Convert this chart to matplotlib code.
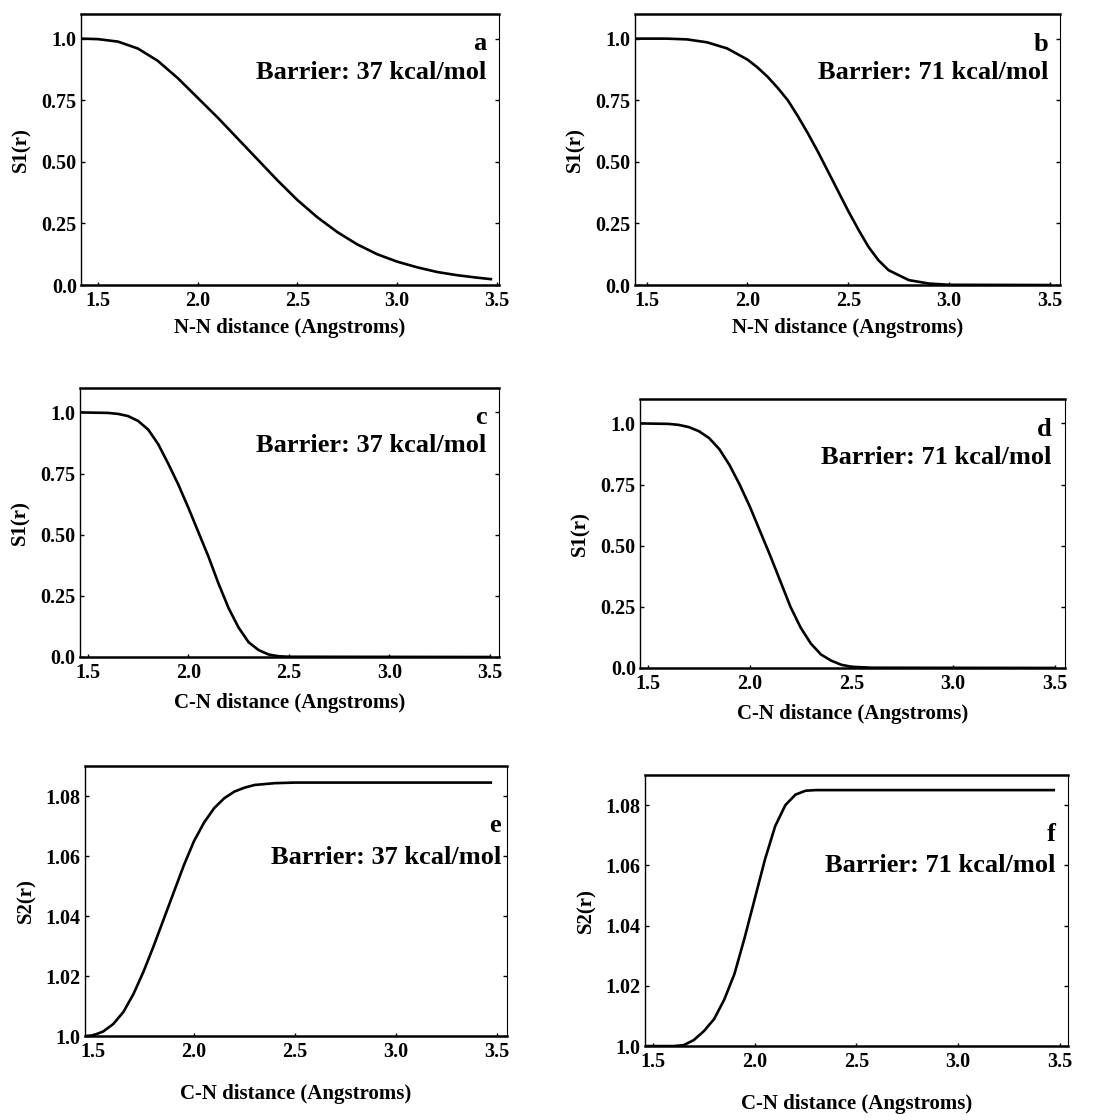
import matplotlib
matplotlib.use('Agg')
import matplotlib.pyplot as plt

plt.rcParams['font.family'] = ['Liberation Serif', 'DejaVu Serif']
plt.rcParams['font.weight'] = 'bold'

# panel a: S1(r) vs N-N distance, barrier 37
a_r = [1.42, 1.5, 1.6, 1.7, 1.8, 1.9, 2.0, 2.1, 2.2, 2.3, 2.4, 2.5, 2.6, 2.7,
       2.8, 2.9, 3.0, 3.1, 3.2, 3.3, 3.4, 3.47]
a_s = [1.0, 0.998, 0.988, 0.96, 0.91, 0.84, 0.76, 0.68, 0.595, 0.51, 0.425,
       0.345, 0.275, 0.215, 0.165, 0.125, 0.095, 0.072, 0.053, 0.04, 0.03, 0.024]

# panel b: S1(r) vs N-N distance, barrier 71
b_r = [1.43, 1.6, 1.7, 1.8, 1.9, 2.0, 2.05, 2.1, 2.15, 2.2, 2.25, 2.3, 2.35,
       2.4, 2.45, 2.5, 2.55, 2.6, 2.65, 2.7, 2.8, 2.9, 3.0, 3.5]
b_s = [1.0, 1.0, 0.997, 0.985, 0.96, 0.915, 0.883, 0.845, 0.8, 0.75, 0.685,
       0.615, 0.54, 0.46, 0.38, 0.3, 0.225, 0.155, 0.1, 0.06, 0.02, 0.006,
       0.001, 0.0]

# panel c: S1(r) vs C-N distance, barrier 37
c_r = [1.46, 1.6, 1.65, 1.7, 1.75, 1.8, 1.85, 1.9, 1.95, 2.0, 2.05, 2.1, 2.15,
       2.2, 2.25, 2.3, 2.35, 2.4, 2.45, 2.5, 3.5]
c_s = [1.0, 0.998, 0.994, 0.985, 0.965, 0.93, 0.87, 0.79, 0.705, 0.61, 0.51,
       0.41, 0.3, 0.2, 0.12, 0.06, 0.028, 0.01, 0.003, 0.001, 0.0]

# panel d: S1(r) vs C-N distance, barrier 71
d_r = [1.46, 1.6, 1.65, 1.7, 1.75, 1.8, 1.85, 1.9, 1.95, 2.0, 2.05, 2.1, 2.15,
       2.2, 2.25, 2.3, 2.35, 2.4, 2.45, 2.5, 2.6, 3.5]
d_s = [1.0, 0.998, 0.994, 0.985, 0.968, 0.94, 0.895, 0.83, 0.75, 0.66, 0.56,
       0.46, 0.355, 0.25, 0.165, 0.1, 0.055, 0.03, 0.013, 0.005, 0.001, 0.0]

# panel e: S2(r) vs C-N distance, barrier 37
e_r = [1.46, 1.5, 1.55, 1.6, 1.65, 1.7, 1.75, 1.8, 1.85, 1.9, 1.95, 2.0, 2.05,
       2.1, 2.15, 2.2, 2.25, 2.3, 2.4, 2.5, 3.47]
e_s = [1.0, 1.0002, 1.0015, 1.004, 1.008, 1.014, 1.0215, 1.03, 1.039, 1.048,
       1.057, 1.065, 1.0712, 1.076, 1.0793, 1.0815, 1.0828, 1.0837, 1.0843,
       1.0845, 1.0845]

# panel f: S2(r) vs C-N distance, barrier 71
f_r = [1.46, 1.6, 1.65, 1.7, 1.75, 1.8, 1.85, 1.9, 1.95, 2.0, 2.05, 2.1, 2.15,
       2.2, 2.25, 2.3, 3.47]
f_s = [1.0, 1.0, 1.0003, 1.002, 1.005, 1.009, 1.0155, 1.024, 1.036, 1.049,
       1.062, 1.073, 1.08, 1.0835, 1.0848, 1.085, 1.085]

x_ticks = [1.5, 2.0, 2.5, 3.0, 3.5]
x_ticklabels = ['1.5', '2.0', '2.5', '3.0', '3.5']
s1_ticks = [0.0, 0.25, 0.5, 0.75, 1.0]
s1_ticklabels = ['0.0', '0.25', '0.50', '0.75', '1.0']
s2_ticks = [1.0, 1.02, 1.04, 1.06, 1.08]
s2_ticklabels = ['1.0', '1.02', '1.04', '1.06', '1.08']


def draw_panel(fig, rect, r, s, xlim, ylim, yticks, yticklabels, ylabel,
               xlabel, xpad, letter, barrier, letter_y, barrier_y, text_x):
    ax = fig.add_axes(rect)
    ax.plot(r, s, color='black', lw=1.9, solid_joinstyle='round')
    ax.set_xlim(*xlim)
    ax.set_ylim(*ylim)
    ax.set_xticks(x_ticks)
    ax.set_xticklabels(x_ticklabels)
    ax.set_yticks(yticks)
    ax.set_yticklabels(yticklabels)
    ax.tick_params(direction='in', length=3, width=1, labelsize=14.5,
                   right=True, pad=3)
    ax.tick_params(axis='x', pad=4, length=2)
    ax.set_ylabel(ylabel, fontsize=15, fontweight='bold', labelpad=7)
    # x label distance differs a bit from row to row in the scan
    ax.set_xlabel(xlabel, fontsize=15, fontweight='bold', labelpad=xpad)
    ax.spines['top'].set_linewidth(1.8)
    ax.spines['bottom'].set_linewidth(1.8)
    ax.spines['left'].set_linewidth(1.0)
    ax.spines['right'].set_linewidth(0.8)
    ax.text(text_x, letter_y, letter, transform=ax.transAxes, ha='right',
            va='center', fontsize=19, fontweight='bold')
    ax.text(text_x, barrier_y, barrier, transform=ax.transAxes, ha='right',
            va='center', fontsize=19, fontweight='bold')
    return ax


def main():
    fig = plt.figure(figsize=(10.94, 11.2), dpi=100)

    draw_panel(fig, [0.074, 0.7455, 0.382, 0.242], a_r, a_s, (1.415, 3.51),
               (0, 1.1), s1_ticks, s1_ticklabels, 'S1(r)',
               'N-N distance (Angstroms)', 5, 'a', 'Barrier: 37 kcal/mol',
               0.893, 0.786, 0.971)
    draw_panel(fig, [0.580, 0.7455, 0.389, 0.242], b_r, b_s, (1.44, 3.55),
               (0, 1.1), s1_ticks, s1_ticklabels, 'S1(r)',
               'N-N distance (Angstroms)', 5, 'b', 'Barrier: 71 kcal/mol',
               0.886, 0.786, 0.972)
    draw_panel(fig, [0.073, 0.4134, 0.383, 0.2402], c_r, c_s, (1.46, 3.545),
               (0, 1.1), s1_ticks, s1_ticklabels, 'S1(r)',
               'C-N distance (Angstroms)', 7.5, 'c', 'Barrier: 37 kcal/mol',
               0.892, 0.788, 0.971)
    draw_panel(fig, [0.585, 0.4036, 0.3885, 0.2402], d_r, d_s, (1.46, 3.55),
               (0, 1.1), s1_ticks, s1_ticklabels, 'S1(r)',
               'C-N distance (Angstroms)', 7.5, 'd', 'Barrier: 71 kcal/mol',
               0.885, 0.781, 0.968)
    draw_panel(fig, [0.0777, 0.075, 0.3857, 0.241], e_r, e_s, (1.46, 3.55),
               (1.0, 1.09), s2_ticks, s2_ticklabels, 'S2(r)',
               'C-N distance (Angstroms)', 16, 'e', 'Barrier: 37 kcal/mol',
               0.781, 0.663, 0.986)
    draw_panel(fig, [0.5896, 0.066, 0.3866, 0.242], f_r, f_s, (1.46, 3.54),
               (1.0, 1.09), s2_ticks, s2_ticklabels, 'S2(r)',
               'C-N distance (Angstroms)', 16, 'f', 'Barrier: 71 kcal/mol',
               0.779, 0.668, 0.970)

    fig.savefig('out.png', dpi=100, facecolor='white')


if __name__ == '__main__':
    main()
